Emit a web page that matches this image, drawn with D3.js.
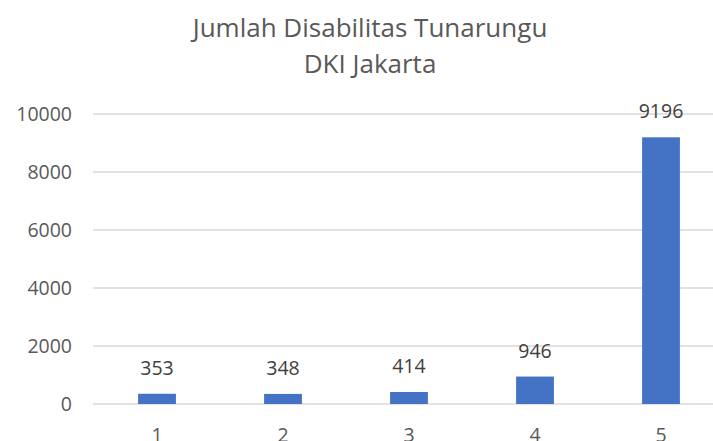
<!DOCTYPE html>
<html><head><meta charset="utf-8">
<script src="https://cdn.jsdelivr.net/npm/d3@7"></script>
<style>body{margin:0;background:#fff}svg{display:block}</style>
</head><body>
<svg id="c" width="713" height="441"></svg>
<script>
const categories = ["1","2","3","4","5"];
const values = [353, 348, 414, 946, 9196];
const yTicks = [0, 2000, 4000, 6000, 8000, 10000];
const titleLines = ["Jumlah Disabilitas Tunarungu", "DKI Jakarta"];

const svg = d3.select("#c");
const font = "Open Sans, sans-serif";
const x = d3.scaleBand().domain(categories).range([94, 724]).paddingInner(0.7).paddingOuter(0.35);
const y = d3.scaleLinear().domain([0, 10000]).range([404, 114]);

svg.append("g").selectAll("line").data(yTicks).join("line")
  .attr("x1", 93).attr("x2", 713)
  .attr("y1", d => y(d)).attr("y2", d => y(d))
  .attr("stroke", "#d9d9d9").attr("stroke-width", 1.5);

svg.append("g").selectAll("text").data(yTicks).join("text")
  .attr("x", 72).attr("y", d => y(d) + 7)
  .attr("text-anchor", "end").attr("font-family", font).attr("font-size", 19.5)
  .attr("fill", "#595959").text(d => d);

svg.append("g").selectAll("rect").data(values).join("rect")
  .attr("x", (d, i) => x(categories[i])).attr("width", x.bandwidth())
  .attr("y", d => y(d)).attr("height", d => y(0) - y(d))
  .attr("fill", "#4472c4");

svg.append("g").selectAll("text").data(values).join("text")
  .attr("x", (d, i) => x(categories[i]) + x.bandwidth() / 2)
  .attr("y", d => y(d) - 19)
  .attr("text-anchor", "middle").attr("font-family", font).attr("font-size", 19.5)
  .attr("fill", "#404040").text(d => d);

svg.append("g").selectAll("text").data(categories).join("text")
  .attr("x", d => x(d) + x.bandwidth() / 2).attr("y", 442)
  .attr("text-anchor", "middle").attr("font-family", font).attr("font-size", 19.5)
  .attr("fill", "#595959").text(d => d);

svg.append("g").selectAll("text").data(titleLines).join("text")
  .attr("x", 370).attr("y", (d, i) => 37 + i * 36)
  .attr("text-anchor", "middle").attr("font-family", font).attr("font-size", 26)
  .attr("fill", "#595959").text(d => d);
</script>
</body></html>
